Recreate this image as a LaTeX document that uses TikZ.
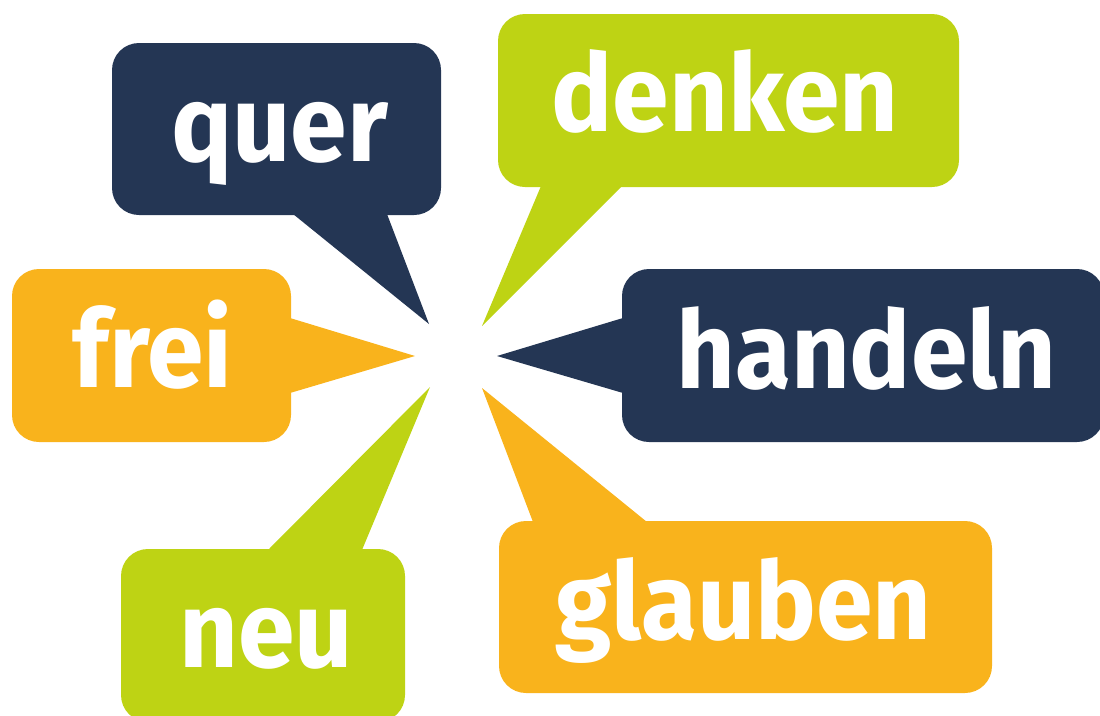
\documentclass[tikz,border=0pt]{standalone}
\definecolor{bubblenavy}{HTML}{243654}
\definecolor{bubblegreen}{HTML}{BED314}
\definecolor{bubbleorange}{HTML}{F9B31C}
\usepackage{fontspec}
\newfontfamily\bubblefont{Fira Sans}[FakeStretch=0.945]
\usepackage{tikz}

\begin{document}
\begin{tikzpicture}[x=1pt,y=-1pt,
  box/.style={rounded corners=27pt},
  word/.style={text=white,anchor=base,inner sep=0pt,font=\bubblefont\bfseries\fontsize{108}{108}\selectfont}]
\useasboundingbox (0,0) rectangle (1100,715);

\fill[bubblenavy,box] (112,43) rectangle (441,215);
\fill[bubblenavy] (293,214) -- (429,324) -- (387,214) -- cycle;
\node[word] (quer) at (279.5,161) {quer};

\fill[bubblegreen,box] (498,14) rectangle (959,187);
\fill[bubblegreen] (541,186) -- (482,326) -- (622,186) -- cycle;
\node[word] (denken) at (725,131) {denken};

\fill[bubbleorange,box] (12,269) rectangle (291,442);
\fill[bubbleorange] (290,318) -- (415,356) -- (290,393) -- cycle;
\node[word] (frei) at (152.5,387) {frei};

\fill[bubblenavy,box] (622,269) rectangle (1104,442);
\fill[bubblenavy] (623,318) -- (497,356) -- (623,393) -- cycle;
\node[word] (handeln) at (866.5,388) {handeln};

\fill[bubblegreen,box] (121,549) rectangle (405,722);
\fill[bubblegreen] (268,550) -- (430,387) -- (362,550) -- cycle;
\node[word] (neu) at (266,667) {neu};

\fill[bubbleorange,box] (499,521) rectangle (992,693);
\fill[bubbleorange] (533,522) -- (482,388) -- (647,522) -- cycle;
\node[word] (glauben) at (743.5,639) {glauben};
\end{tikzpicture}
\end{document}
